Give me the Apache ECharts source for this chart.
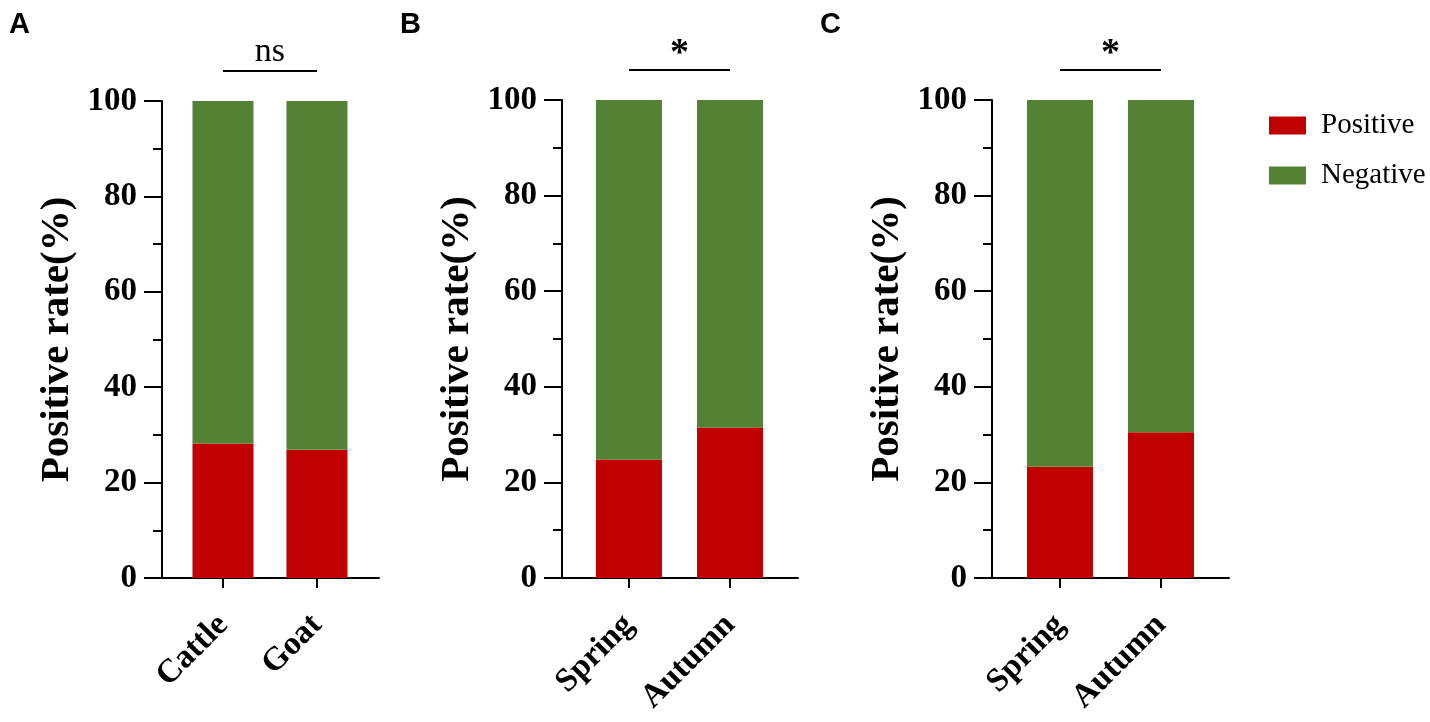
<!DOCTYPE html>
<html>
<head>
<meta charset="utf-8">
<script src="https://cdn.jsdelivr.net/npm/echarts@6/dist/echarts.min.js"></script>
<style>
html, body { margin: 0; padding: 0; background: #fff; }
#chart { width: 1430px; height: 722px; }
</style>
</head>
<body>
<div id="chart"></div>
<script>
// values (%)
const panelLetters = ['A', 'B', 'C'];
const categoriesA = ['Cattle', 'Goat'];
const categoriesB = ['Spring', 'Autumn'];
const categoriesC = ['Spring', 'Autumn'];
const positiveA = [28.2, 26.9];
const negativeA = [71.8, 73.1];
const positiveB = [24.8, 31.5];
const negativeB = [75.2, 68.5];
const positiveC = [23.3, 30.5];
const negativeC = [76.7, 69.5];
const sigLabels = ['ns', '*', '*'];
const yMin = 0;
const yMax = 100;
const yStep = 20;

const RED = '#c00000';
const GREEN = '#548235';
const SERIF = '"Liberation Serif", "Times New Roman", serif';

// layout of the three panels (px)
const panels = [
    { left: 162, top: 101, width: 217, height: 477, xMin: 0.351, xMax: 2.66, barWidth: 61, letterX: 9,
      cats: categoriesA, pos: positiveA, neg: negativeA },
    { left: 562, top: 100, width: 236, height: 478, xMin: 0.337, xMax: 2.673, barWidth: 66, letterX: 400,
      cats: categoriesB, pos: positiveB, neg: negativeB },
    { left: 992, top: 100, width: 237, height: 478, xMin: 0.327, xMax: 2.673, barWidth: 66, letterX: 820,
      cats: categoriesC, pos: positiveC, neg: negativeC }
];
const sigLevel = 106.3;

function initChart(dom){
    let chartDom = document.getElementById(dom);
    let chartInstance = echarts.getInstanceByDom(chartDom);
    if(chartInstance){
        return chartInstance;
    }
    return echarts.init(chartDom);
}

// value first so the stack goes on y: [value, position]
function toPairs(arr){
    return arr.map(function(v, k){ return [v, k + 1]; });
}

function buildOption(){
    let grid = [], xAxis = [], yAxis = [], series = [];
    panels.forEach(function(p, i){
        grid.push({ left: p.left, top: p.top, width: p.width, height: p.height });
        xAxis.push({
            type: 'value', gridIndex: i, min: p.xMin, max: p.xMax,
            axisLine: { show: true, onZero: false, lineStyle: { color: '#000', width: 2 } },
            axisTick: { show: true, length: 10, customValues: [1, 2], lineStyle: { color: '#000', width: 2 } },
            axisLabel: {
                customValues: [1, 2], rotate: 45, margin: 42,
                color: '#000', fontFamily: SERIF, fontWeight: 'bold', fontSize: 33,
                formatter: function(v){ return p.cats[Math.round(v) - 1]; }
            },
            splitLine: { show: false }
        });
        yAxis.push({
            type: 'value', gridIndex: i, min: yMin, max: yMax, interval: yStep,
            name: 'Positive rate(%)', nameLocation: 'middle', nameGap: 84,
            nameTextStyle: { color: '#000', fontFamily: SERIF, fontWeight: 'bold', fontSize: 41 },
            axisLine: { show: true, lineStyle: { color: '#000', width: 2 } },
            axisTick: { show: true, length: 18, lineStyle: { color: '#000', width: 2 } },
            minorTick: { show: true, splitNumber: 2, length: 9, lineStyle: { color: '#000', width: 2 } },
            axisLabel: { margin: 25, color: '#000', fontFamily: SERIF, fontWeight: 'bold', fontSize: 33 },
            splitLine: { show: false }
        });
        series.push({
            name: 'Positive', type: 'bar', stack: 's' + i, xAxisIndex: i, yAxisIndex: i,
            encode: { x: 1, y: 0 },
            barWidth: p.barWidth, itemStyle: { color: RED },
            data: toPairs(p.pos)
        });
        series.push({
            name: 'Negative', type: 'bar', stack: 's' + i, xAxisIndex: i, yAxisIndex: i,
            encode: { x: 1, y: 0 },
            barWidth: p.barWidth, itemStyle: { color: GREEN },
            data: toPairs(p.neg)
        });
    });
    return {
        backgroundColor: '#fff',
        animation: false,
        legend: {
            data: ['Positive', 'Negative'], orient: 'vertical', left: 1264, top: 106,
            icon: 'rect', itemWidth: 37, itemHeight: 18, itemGap: 21,
            textStyle: { color: '#000', fontFamily: SERIF, fontSize: 29, padding: [0, 0, 0, 10] }
        },
        grid: grid, xAxis: xAxis, yAxis: yAxis, series: series
    };
}

// significance bars and panel letters, placed through the axes
function buildGraphic(chart){
    let g = [];
    panels.forEach(function(p, i){
        let a = chart.convertToPixel({ gridIndex: i }, [1, sigLevel]);
        let b = chart.convertToPixel({ gridIndex: i }, [2, sigLevel]);
        g.push({ type: 'line', shape: { x1: a[0], y1: a[1], x2: b[0], y2: b[1] },
                 style: { stroke: '#000', lineWidth: 2 } });
        let isStar = sigLabels[i] === '*';
        g.push({ type: 'text', style: {
            text: sigLabels[i], x: (a[0] + b[0]) / 2, y: a[1] + (isStar ? 3 : -2),
            align: 'center', verticalAlign: 'bottom', fill: '#000',
            fontFamily: SERIF, fontWeight: isStar ? 'bold' : 'normal', fontSize: isStar ? 38 : 34
        } });
        g.push({ type: 'text', style: {
            text: panelLetters[i], x: p.letterX, y: 10, fill: '#000',
            fontFamily: '"Liberation Sans", Arial, sans-serif', fontWeight: 'bold', fontSize: 29
        } });
    });
    return g;
}

let chart = initChart('chart');
chart.setOption(buildOption());
chart.setOption({ graphic: buildGraphic(chart) });
</script>
</body>
</html>
